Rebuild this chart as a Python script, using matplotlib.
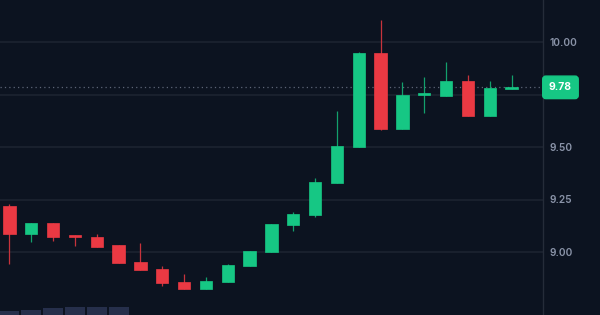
import numpy as np
import matplotlib.pyplot as plt
import matplotlib.transforms as mtransforms

# OHLC per candle
opens = [9.220, 9.087, 9.138, 9.075, 9.073, 9.032, 8.954, 8.919, 8.856, 8.825,
         8.856, 8.932, 9.000, 9.130, 9.178, 9.329, 9.501, 9.946, 9.587, 9.749,
         9.744, 9.813, 9.646, 9.777]
highs = [9.229, 9.138, 9.138, 9.081, 9.086, 9.035, 9.041, 8.933, 8.895, 8.882,
         8.941, 9.006, 9.135, 9.190, 9.352, 9.671, 9.951, 10.105, 9.810, 9.832,
         9.905, 9.843, 9.814, 9.845]
lows = [8.941, 9.049, 9.054, 9.030, 9.025, 8.949, 8.916, 8.840, 8.825, 8.825,
        8.856, 8.932, 9.000, 9.100, 9.165, 9.329, 9.501, 9.582, 9.587, 9.663,
        9.744, 9.646, 9.646, 9.776]
closes = [9.087, 9.138, 9.070, 9.072, 9.025, 8.949, 8.916, 8.851, 8.825, 8.860,
          8.937, 9.006, 9.135, 9.181, 9.332, 9.503, 9.946, 9.587, 9.749, 9.750,
          9.813, 9.646, 9.782, 9.784]
volumes = [48, 60, 80, 92, 100, 100, 0, 0, 0, 0, 0, 0, 0, 0, 0, 0, 0, 0, 0, 0, 0, 0, 0, 0]
price_ticks = [9.00, 9.25, 9.50, 10.00]
grid_levels = [9.00, 9.25, 9.50, 9.75, 10.00]
last_label = "9.78"

bg = "#0c1320"
green = "#16c784"
red = "#ea3943"
green_wick = "#13a06c"
red_wick = "#c7333c"
grid_c = "#1c2330"
text_c = "#8a93a8"

fig = plt.figure(figsize=(6, 3.15), dpi=100, facecolor=bg)
ax = fig.add_axes([0, 0, 543 / 600, 1])
ax.set_facecolor(bg)

x = np.arange(len(opens))
o = np.array(opens)
c = np.array(closes)
up = c >= o
cols = np.where(up, green, red)
wcols = np.where(up, green_wick, red_wick)

# volume at the bottom
vax = ax.twinx()
vax.bar(x, volumes, width=0.92, color="#262f4b", zorder=1)
vax.set_ylim(0, 3800)
vax.axis("off")

ax.set_zorder(vax.get_zorder() + 1)
ax.patch.set_visible(False)
fig.patch.set_facecolor(bg)

for lv in grid_levels:
    ax.axhline(lv, color=grid_c, lw=1.2, zorder=0)

ax.vlines(x, lows, highs, colors=wcols, lw=0.9, zorder=2)
bottom = np.minimum(o, c)
height = np.maximum(np.abs(c - o), 0.008)
ax.bar(x, height, bottom=bottom, width=0.56, color=cols, edgecolor=cols,
       lw=0.5, zorder=3)

# last price line + label
last = closes[-1]
ax.axhline(last, color="#5d6577", lw=0.9, ls=(0, (1, 2.5)), zorder=1)
trans = mtransforms.blended_transform_factory(ax.transAxes, ax.transData)
ax.text(1.011, last, last_label, transform=trans, ha="left", va="center",
        color="white", fontsize=7.5, fontweight="bold", family=["Inter", "DejaVu Sans"],
        bbox=dict(boxstyle="round,pad=0.6,rounding_size=0.3", fc=green, ec=green),
        clip_on=False, zorder=5)

ax.set_xlim(-0.43, 24.44)
ax.set_ylim(8.70, 10.20)
ax.yaxis.tick_right()
ax.set_yticks(price_ticks)
ax.set_yticklabels(["%.2f" % t for t in price_ticks])
ax.tick_params(axis="y", length=0, pad=4.5, labelcolor=text_c, labelsize=7.3)
for lab in ax.get_yticklabels():
    lab.set_family(["Inter", "DejaVu Sans"])
    lab.set_fontweight("semibold")
ax.set_xticks([])
for s in ["top", "bottom", "left"]:
    ax.spines[s].set_visible(False)
ax.spines["right"].set_color("#252c39")
ax.spines["right"].set_linewidth(1.0)

fig.savefig("out.png", dpi=100, facecolor=bg)
